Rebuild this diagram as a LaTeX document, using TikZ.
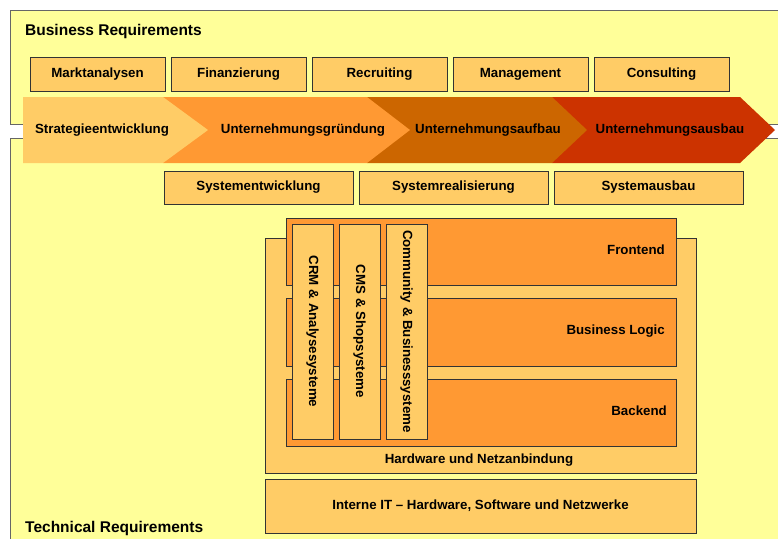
\documentclass[tikz,border=0pt]{standalone}
\usepackage{fontspec}
\setmainfont{Liberation Sans}
\definecolor{bgy}{HTML}{FFFF99}
\definecolor{lor}{HTML}{FFCC66}
\definecolor{mor}{HTML}{FF9933}
\definecolor{dor}{HTML}{CC6600}
\definecolor{rdor}{HTML}{CC3300}
\definecolor{edge}{HTML}{333333}
\definecolor{outeredge}{HTML}{666666}
\begin{document}
\begin{tikzpicture}[x=1pt,y=-1pt,
  lbl/.style={font=\fontsize{13.3}{15}\selectfont\bfseries, text height=9.5pt, text depth=2.8pt, inner sep=0pt},
  head/.style={font=\fontsize{15.5}{18}\selectfont\bfseries, inner sep=0pt},
  box/.style={lbl, draw=edge, line width=1pt, fill=lor},
  layer/.style={box, fill=mor},
  outer/.style={draw=outeredge, line width=1pt, fill=bgy, inner sep=0pt},
  topbox/.style={box, minimum width=135pt, minimum height=34pt},
  sysbox/.style={box, minimum width=189pt, minimum height=33pt},
  col/.style={box, rotate=-90, minimum width=215pt, minimum height=41pt}
]
\useasboundingbox (0,0) rectangle (778,538);
\clip (0,0) rectangle (778,538);
\fill[white] (0,0) rectangle (778,538);

% outer areas
\node[outer, anchor=north west, minimum width=800pt, minimum height=114pt] (br) at (10,10) {};
\node[outer, anchor=north west, minimum width=800pt, minimum height=430pt] (tr) at (10,138) {};
\node[head, anchor=base west] (brh) at (25,35) {Business Requirements};
\node[head, anchor=base west] (trh) at (25,532) {Technical Requirements};

% top row
\node[topbox] (mkt) at (97.5,74) {Marktanalysen};
\node[topbox] (fin) at (238.5,74) {Finanzierung};
\node[topbox] (rec) at (379.5,74) {Recruiting};
\node[topbox] (man) at (520.5,74) {Management};
\node[topbox] (con) at (661.5,74) {Consulting};

% chevrons
\fill[rdor] (552,97) -- (740,97) -- (775,130) -- (740,163) -- (552,163) -- cycle;
\fill[dor] (367,97) -- (552,97) -- (587,130) -- (552,163) -- (367,163) -- cycle;
\fill[mor] (163,97) -- (367,97) -- (410,130) -- (367,163) -- (163,163) -- cycle;
\fill[lor] (23,97) -- (163,97) -- (208,130) -- (163,163) -- (23,163) -- cycle;
\node[lbl] (c1) at (102,130) {Strategieentwicklung};
\node[lbl] (c2) at (303,130) {Unternehmungsgründung};
\node[lbl] (c3) at (488,130) {Unternehmungsaufbau};
\node[lbl] (c4) at (670,130) {Unternehmungsausbau};

% system row
\node[sysbox] (sen) at (258.5,187.5) {Systementwicklung};
\node[sysbox] (sre) at (453.5,187.5) {Systemrealisierung};
\node[sysbox] (sau) at (648.5,187.5) {Systemausbau};

% technical stack
\node[box, minimum width=431pt, minimum height=54pt] (iit) at (480.5,506) {Interne IT -- Hardware, Software und Netzwerke};
\node[box, minimum width=431pt, minimum height=235pt] (hw) at (480.5,355.5) {};
\node[lbl] (hwl) at (479,460) {Hardware und Netzanbindung};
\node[layer, minimum width=390pt, minimum height=67pt] (fe) at (481,251.5) {};
\node[layer, minimum width=390pt, minimum height=68pt] (bl) at (481,332) {};
\node[layer, minimum width=390pt, minimum height=67pt] (be) at (481,412.5) {};
\node[lbl, anchor=east] (fel) at (665,251) {Frontend};
\node[lbl, anchor=east] (bll) at (665,331) {Business Logic};
\node[lbl, anchor=east] (bel) at (667,412) {Backend};
\node[col] (crm) at (312.5,331.5) {CRM \& Analysesysteme};
\node[col] (cms) at (359.5,331.5) {CMS \& Shopsysteme};
\node[col] (com) at (406.5,331.5) {Community \& Businesssysteme};
\end{tikzpicture}
\end{document}
